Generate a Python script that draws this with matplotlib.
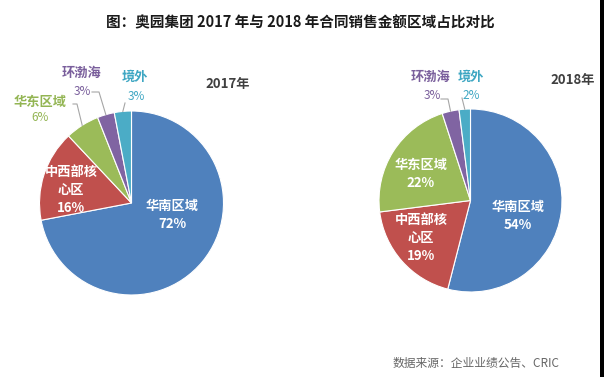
import numpy as np
import matplotlib
matplotlib.use('Agg')
import matplotlib.pyplot as plt
from matplotlib.patches import Rectangle

plt.rcParams['font.family'] = ['Noto Sans CJK SC', 'DejaVu Sans']

# data
regions = ['华南区域', '中西部核\n心区', '华东区域', '环渤海', '境外']
share_2017 = [72, 16, 6, 3, 3]
share_2018 = [54, 19, 22, 3, 2]
years = ['2017年', '2018年']
title = '图：奥园集团 2017 年与 2018 年合同销售金额区域占比对比'
source = '数据来源：企业业绩公告、CRIC'

colors = ['#4F81BD', '#C0504D', '#9BBB59', '#8064A2', '#4BACC6']
text_colors = ['#4F81BD', '#C0504D', '#93B553', '#7A5F9C', '#3FA7C3']

W, H = 604, 377
fig = plt.figure(figsize=(W / 100, H / 100), dpi=100)


def draw_pie(values, cx, cy, R, inside, outside):
    # axes placed from pixel layout: pie centre (cx, cy), radius R
    ax = fig.add_axes([(cx - 1.6 * R) / W, (H - cy - 1.6 * R) / H, 3.2 * R / W, 3.2 * R / H])
    wedges, _ = ax.pie(values, colors=colors, startangle=90, counterclock=False,
                       wedgeprops=dict(edgecolor='white', linewidth=0.8))
    ax.set_xlim(-1.6, 1.6)
    ax.set_ylim(-1.6, 1.6)
    ax.axis('off')

    def px(x, y):
        return (x - cx) / R, (cy - y) / R

    # labels inside the slices
    for i, (x, y) in inside.items():
        ax.text(*px(x, y), f'{regions[i]}\n{values[i]}%', ha='center', va='center',
                color='white', fontsize=9.5, fontweight='bold', linespacing=1.35)

    # labels outside with leader lines
    for i, (name_xy, pct_xy, leader) in outside.items():
        ax.text(*px(*name_xy), regions[i], ha='center', va='center',
                color=text_colors[i], fontsize=9.5, fontweight='bold')
        ax.text(*px(*pct_xy), f'{values[i]}%', ha='center', va='center',
                color=text_colors[i], fontsize=8.5)
        w = wedges[i]
        mid = np.deg2rad((w.theta1 + w.theta2) / 2)
        pts = [px(*p) for p in leader] + [(np.cos(mid), np.sin(mid))]
        xs, ys = zip(*pts)
        ax.plot(xs, ys, color='#A6A6A6', lw=0.8)
    return ax


draw_pie(share_2017, 131.5, 203, 92,
         inside={0: (172, 215), 1: (71, 190)},
         outside={2: ((40, 102), (40, 118), [(73, 104), (77, 104)]),
                  3: ((82, 73), (82, 92), [(92, 92), (99, 92)]),
                  4: ((135, 77), (136, 97), [(125, 103)])})

draw_pie(share_2018, 470.5, 200.5, 91.5,
         inside={0: (518, 216), 2: (421, 174), 1: (421, 238)},
         outside={3: ((431, 77), (432, 95), [(441, 99), (448, 99)]),
                  4: ((471, 77), (471, 95), [(462, 98)])})

fig.text(300.5 / W, 1 - 22 / H, title, ha='center', va='center',
         fontsize=10.5, fontweight='bold', color='#1A1A1A')
fig.text(228 / W, 1 - 84 / H, years[0], ha='center', va='center',
         fontsize=9.5, fontweight='bold', color='#404040')
fig.text(573 / W, 1 - 80 / H, years[1], ha='center', va='center',
         fontsize=9.5, fontweight='bold', color='#404040')
fig.text(393 / W, 1 - 363 / H, source, ha='left', va='center',
         fontsize=8.5, color='#666666')

# black strip at the right edge of the original image
fig.patches.append(Rectangle((600 / W, 0), 4 / W, 1, transform=fig.transFigure,
                             facecolor='black', edgecolor='none'))

fig.savefig('out.png', dpi=100)
